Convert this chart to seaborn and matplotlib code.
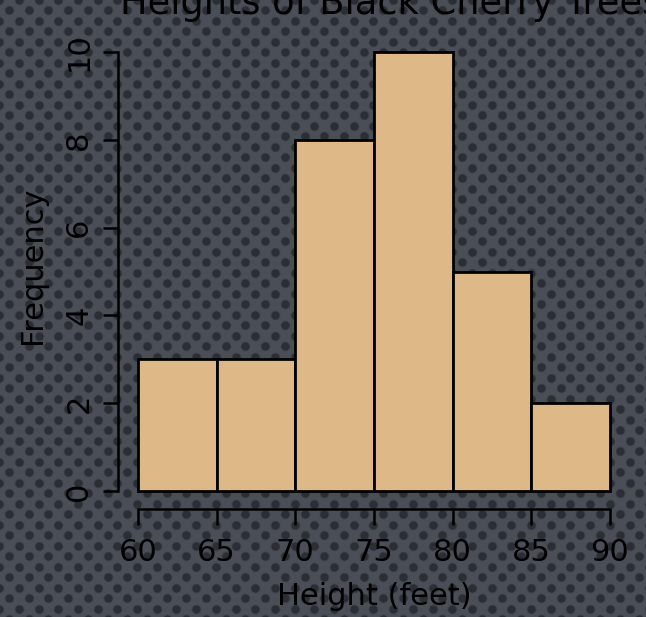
import numpy as np
import pandas as pd
import seaborn as sns
import matplotlib.pyplot as plt

sns.set_style("ticks")
plt.rcParams["font.family"] = ["DejaVu Sans"]

# histogram of tree heights (bin edges and counts)
bin_edges = [60, 65, 70, 75, 80, 85, 90]
counts = [3, 3, 8, 10, 5, 2]
y_ticks = [0, 2, 4, 6, 8, 10]
title = "Heights of Black Cherry Trees"
x_label = "Height (feet)"
y_label = "Frequency"

trees = pd.DataFrame({"height": bin_edges[:-1], "n": counts})

W, H = 646, 617
fig = plt.figure(figsize=(W / 100, H / 100), dpi=100)
fig.patch.set_facecolor("#4a4f57")

# dotted slide backdrop
bg = fig.add_axes([0, 0, 1, 1], zorder=-5)
bg.set_xlim(0, W)
bg.set_ylim(H, 0)
bg.axis("off")
kk, jj = np.meshgrid(np.arange(-1, 60), np.arange(-1, 35))
dot_x = 9 + 9.85 * (kk % 2) + 19.7 * jj
dot_y = 10 + 10.5 * kk
bg.scatter(dot_x.ravel(), dot_y.ravel(), s=50, color="#2b2f35", alpha=0.3, linewidths=0)
bg.scatter(dot_x.ravel(), dot_y.ravel(), s=34, color="#2b2f35", linewidths=0)

ax = fig.add_axes([138 / W, 1 - 491 / H, 472 / W, 439 / H])
ax.set_facecolor("none")
sns.histplot(data=trees, x="height", weights="n", bins=bin_edges,
             color="#DEB887", edgecolor="black", linewidth=2, alpha=1, ax=ax)
for p in ax.patches:
    p.set_clip_on(False)

ax.set_xlim(60, 90)
ax.set_ylim(0, 10)
ax.set_xticks(bin_edges)
ax.set_yticks(y_ticks)

ax.spines["top"].set_visible(False)
ax.spines["right"].set_visible(False)
ax.spines["left"].set_position(("outward", 14.4))
ax.spines["bottom"].set_position(("outward", 13))
ax.spines["left"].set_bounds(0, 10)
ax.spines["bottom"].set_bounds(60, 90)
for s in ["left", "bottom"]:
    ax.spines[s].set_linewidth(1.8)
    ax.spines[s].set_color("black")

ax.tick_params(axis="y", length=10.8, width=1.8, labelsize=22, pad=7,
               labelrotation=90, color="black", labelcolor="black")
ax.tick_params(axis="x", length=11.5, width=1.8, labelsize=22, pad=9,
               color="black", labelcolor="black")
for lab in ax.get_yticklabels():
    lab.set_va("center")

ax.set_xlabel(x_label, fontsize=22, color="black", va="baseline")
ax.xaxis.set_label_coords(0.5, (491 - 605) / 439)
ax.set_ylabel(y_label, fontsize=22, color="black", va="baseline")
ax.yaxis.set_label_coords((41 - 138) / 472, (491 - 265) / 439)

fig.text(120 / W, 1 - 14 / H, title, ha="left", va="baseline",
         fontsize=26.5, color="black")

fig.savefig("out.png", dpi=100, facecolor=fig.get_facecolor())
